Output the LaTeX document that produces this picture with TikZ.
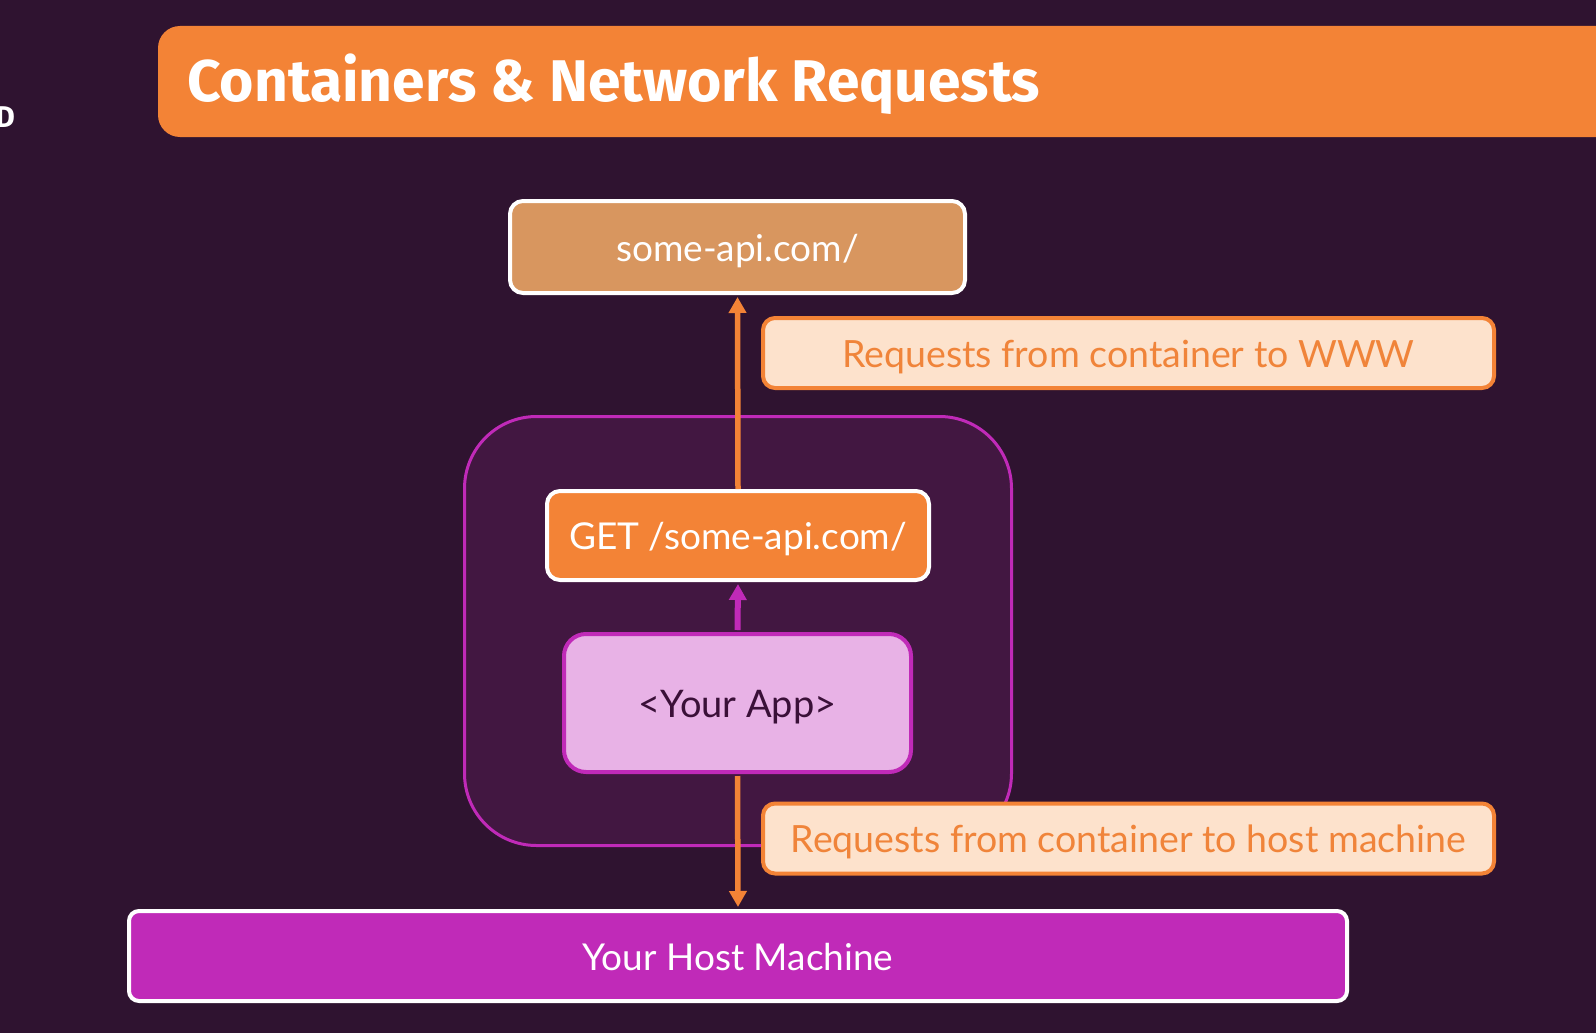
\documentclass[tikz,border=0pt]{standalone}
\usepackage{fontspec}
\setmainfont{Lato}
\newfontfamily\titlefont{Fira Sans}
\usetikzlibrary{arrows.meta}
\definecolor{bgc}{HTML}{2F1330}
\definecolor{contfill}{HTML}{421741}
\definecolor{magc}{HTML}{C02AB8}
\definecolor{orc}{HTML}{F38336}
\definecolor{apic}{HTML}{D8965F}
\definecolor{peach}{HTML}{FDE2CC}
\definecolor{appfill}{HTML}{E8B2E6}
\definecolor{apptext}{HTML}{3A1038}
\definecolor{lbltext}{HTML}{F0843A}
\tikzset{
  box/.style={draw=white, line width=4pt, rounded corners=13pt, align=center, inner sep=0pt, text height=33.5pt, text depth=5.5pt, font=\fontsize{37}{42}\selectfont},
  lbl/.style={draw=orc, fill=peach, text=lbltext, line width=4pt, rounded corners=12pt, inner sep=0pt, text height=33.5pt, text depth=5.5pt, minimum width=731pt, minimum height=70pt, font=\fontsize{37.5}{42}\selectfont},
  orarrow/.style={draw=orc, line width=5.5pt, -{Triangle[width=17pt,length=16pt]}},
  magarrow/.style={draw=magc, line width=6pt, -{Triangle[width=17pt,length=16pt]}}
}
\begin{document}
\begin{tikzpicture}[x=1pt,y=-1pt]
\useasboundingbox (0,0) rectangle (1596,1033);
\fill[bgc] (0,0) rectangle (1596,1033);
\clip (0,0) rectangle (1596,1033);
% title
\fill[orc, rounded corners=22pt] (158,26) rectangle (1700,137);
\node[anchor=base west, inner sep=0pt, text=white, font=\titlefont\bfseries\fontsize{58.8}{62}\selectfont] (title) at (187,102) {Containers \& Network Requests};
\node[anchor=base east, inner sep=0pt, text=white, font=\titlefont\bfseries\fontsize{30}{34}\selectfont] (dfrag) at (15,128) {D};
% container
\node[draw=magc, fill=contfill, line width=3pt, rounded corners=72pt, minimum width=547pt, minimum height=429pt, inner sep=0pt] (cont) at (738,631) {};
% nodes
\node[box, fill=apic, text=white, minimum width=455pt, minimum height=92pt] (api) at (737.5,247) {some-api.com/};
\node[box, fill=orc, text=white, minimum width=382pt, minimum height=89pt] (get) at (738,535.5) {GET /some-api.com/};
\node[box, draw=magc, fill=appfill, text=apptext, minimum width=347pt, minimum height=138pt, rounded corners=22pt, font=\fontsize{38}{42}\selectfont] (app) at (737.5,703) {<Your App>};
\node[box, fill=magc, text=white, minimum width=1218pt, minimum height=90pt, rounded corners=10pt] (host) at (738,956) {Your Host Machine};
% arrows
\draw[orarrow, shorten >=2pt] (get.north) -- (api.south);
\draw[magarrow, shorten >=2pt, shorten <=2pt] (app.north) -- (get.south);
\draw[orarrow, shorten >=2pt, shorten <=2pt] (app.south) -- (host.north);
% labels
\node[lbl] (lbl1) at (1128.5,353) {Requests from container to WWW};
\node[lbl] (lbl2) at (1128.5,838.5) {Requests from container to host machine};
\end{tikzpicture}
\end{document}
